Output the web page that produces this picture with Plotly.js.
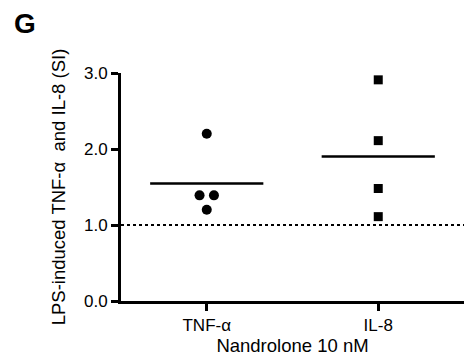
<!DOCTYPE html>
<html><head><meta charset="utf-8">
<script src="https://cdn.plot.ly/plotly-3.0.1.min.js"></script>
<style>html,body{margin:0;padding:0;background:#fff}#chart{width:464px;height:359px}</style>
</head><body><div id="chart"></div>
<script>
const categories = ["TNF-α", "IL-8"];
const tnfValues = [2.20, 1.39, 1.39, 1.20];
const il8Values = [2.91, 2.11, 1.48, 1.11];
const baseline = 1.0;
const yTicks = [0, 1, 2, 3];

const FONT = "Liberation Sans, Arial, Helvetica, sans-serif";

function spread(vals, center) {
  // offset tied values side by side
  const xs = [];
  const counts = {};
  vals.forEach(v => { counts[v] = (counts[v] || 0) + 1; });
  const seen = {};
  vals.forEach(v => {
    const n = counts[v];
    const k = seen[v] || 0; seen[v] = k + 1;
    xs.push(center + (k - (n - 1) / 2) * 0.084);
  });
  return xs;
}
const mean = a => a.reduce((s, v) => s + v, 0) / a.length;

const series = [
  {vals: tnfValues, symbol: "circle"},
  {vals: il8Values, symbol: "square"}
];
const traces = [];
const shapes = [];
series.forEach((s, i) => {
  traces.push({
    x: spread(s.vals, i), y: s.vals, type: "scatter", mode: "markers",
    marker: {symbol: s.symbol, size: s.symbol === "circle" ? 10 : 9, color: "#000"},
    hoverinfo: "skip", showlegend: false, cliponaxis: false
  });
  const m = mean(s.vals);
  shapes.push({type: "line", xref: "x", yref: "y", x0: i - 0.33, x1: i + 0.33, y0: m, y1: m,
    line: {color: "#000", width: 2.5}});
});
shapes.push({type: "line", xref: "x", yref: "y", x0: -0.5, x1: 1.5, y0: baseline, y1: baseline,
  line: {color: "#000", width: 2, dash: "dot"}, layer: "below"});

const layout = {
  width: 464, height: 359,
  margin: {l: 121, r: 0, t: 73, b: 58},
  paper_bgcolor: "#fff", plot_bgcolor: "#fff",
  font: {family: FONT, color: "#000", size: 17},
  xaxis: {
    range: [-0.5, 1.5], tickvals: categories.map((c, i) => i), ticktext: categories,
    showgrid: false, zeroline: false, showline: true, linecolor: "#000", linewidth: 3,
    ticks: "outside", ticklen: 7, tickwidth: 3, tickcolor: "#000",
    tickfont: {size: 17, family: FONT},
    title: {text: "Nandrolone 10 nM", font: {size: 18.5, family: FONT}, standoff: 2}
  },
  yaxis: {
    range: [0, 3], tickvals: yTicks, tickformat: ".1f",
    showgrid: false, zeroline: false, showline: true, linecolor: "#000", linewidth: 3,
    ticks: "outside", ticklen: 7, tickwidth: 3, tickcolor: "#000",
    tickfont: {size: 17, family: FONT},
    title: {text: "LPS-induced TNF-α&nbsp; and IL-8 (SI)", font: {size: 18.5, family: FONT}, standoff: 14}
  },
  shapes: shapes,
  annotations: [{
    text: "<b>G</b>", xref: "paper", yref: "paper", x: -121/343, y: 1 + 50/228,
    xanchor: "left", yanchor: "middle", showarrow: false, xshift: 12,
    font: {size: 28, family: FONT, color: "#000"}
  }],
  showlegend: false
};
Plotly.newPlot("chart", traces, layout, {staticPlot: true, displayModeBar: false});
</script></body></html>
